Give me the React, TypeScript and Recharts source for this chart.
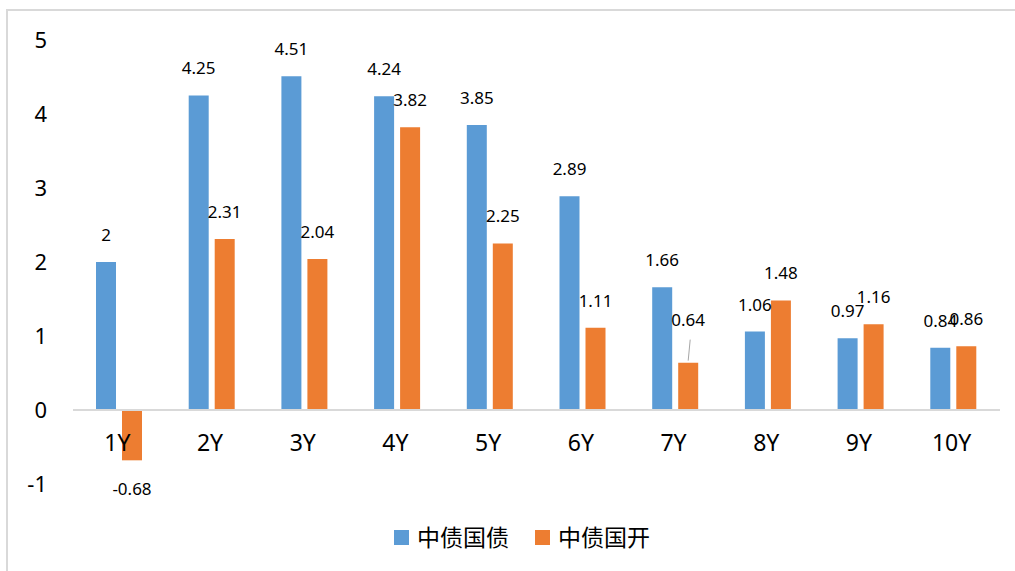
import { BarChart, Bar, XAxis, YAxis, Legend, ReferenceLine, LabelList } from "recharts";

const tenors = ["1Y", "2Y", "3Y", "4Y", "5Y", "6Y", "7Y", "8Y", "9Y", "10Y"];
const govBond = [2, 4.25, 4.51, 4.24, 3.85, 2.89, 1.66, 1.06, 0.97, 0.84];
const cdbBond = [-0.68, 2.31, 2.04, 3.82, 2.25, 1.11, 0.64, 1.48, 1.16, 0.86];
const yTicks = [-1, 0, 1, 2, 3, 4, 5];

const GOV = "中债国债";
const CDB = "中债国开";

const data = tenors.map((t, i) => ({ tenor: t, [GOV]: govBond[i], [CDB]: cdbBond[i] }));

const FONT = "'Noto Sans', 'Noto Sans CJK SC', sans-serif";

// Excel-style data labels; the 7Y orange label sits higher with a leader line
const makeLabel = (series: string) => (props: any) => {
  const vb = props.viewBox || {};
  const x = props.x ?? vb.x;
  const y = props.y ?? vb.y;
  const w = props.width ?? vb.width;
  const h = props.height ?? vb.height;
  const v = Number(props.value);
  const cx = x + w / 2;
  const top = Math.min(y, y + h);
  const bottom = Math.max(y, y + h);
  if (v < 0) {
    return (
      <text x={cx} y={bottom + 29} dy="0.35em" textAnchor="middle" fontSize={17} fill="#000" fontFamily={FONT}>
        {v}
      </text>
    );
  }
  if (series === CDB && props.index === 6) {
    return (
      <g>
        <line x1={cx + 2} y1={top - 23} x2={cx} y2={top - 2} stroke="#a6a6a6" strokeWidth={1} />
        <text x={cx} y={top - 43} dy="0.35em" textAnchor="middle" fontSize={17} fill="#000" fontFamily={FONT}>
          {v}
        </text>
      </g>
    );
  }
  return (
    <text x={cx} y={top - 27} dy="0.35em" textAnchor="middle" fontSize={17} fill="#000" fontFamily={FONT}>
      {v}
    </text>
  );
};

const CategoryTick = (props: any) => (
  <text x={props.x - 2} y={props.y - 41} dy="0.35em" textAnchor="middle" fontSize={23} fill="#000" fontFamily={FONT}>
    {props.payload.value}
  </text>
);

const LegendContent = (props: any) => (
  <div style={{ display: "flex", alignItems: "center", fontFamily: FONT, fontSize: 23, color: "#000" }}>
    {(props.payload || []).map((p: any, i: number) => (
      <div key={i} style={{ display: "flex", alignItems: "center", marginRight: 26 }}>
        <span style={{ width: 15, height: 15, background: p.color, display: "inline-block", marginRight: 8 }} />
        <span style={{ lineHeight: "26px" }}>{p.value}</span>
      </div>
    ))}
  </div>
);

export default function App() {
  return (
    <div style={{ position: "absolute", left: 0, top: 0, width: 1015, height: 571, overflow: "hidden", background: "#fff" }}>
      <div
        style={{
          position: "absolute",
          left: 6,
          top: 9,
          width: 1030,
          height: 600,
          border: "2px solid #d9d9d9",
          boxSizing: "border-box",
        }}
      />
      <div style={{ position: "absolute", left: 0, top: 0 }}>
        <BarChart
          width={1015}
          height={571}
          data={data}
          margin={{ top: 40, right: 15, bottom: 57, left: 20 }}
          barSize={20}
          barGap={6}
          style={{ fontFamily: FONT }}
        >
          <XAxis
            dataKey="tenor"
            axisLine={false}
            tickLine={false}
            tickSize={0}
            tickMargin={0}
            height={30}
            tick={<CategoryTick />}
            interval={0}
          />
          <YAxis
            domain={[-1, 5]}
            ticks={yTicks}
            axisLine={false}
            tickLine={false}
            tickSize={0}
            tickMargin={26}
            width={53}
            tick={{ fontSize: 22, fill: "#000", fontFamily: FONT }}
            interval={0}
          />
          <ReferenceLine y={0} stroke="#d9d9d9" strokeWidth={2} />
          <Legend
            layout="horizontal"
            verticalAlign="middle"
            align="center"
            wrapperStyle={{ top: 524, left: 394, width: "auto" }}
            content={<LegendContent />}
          />
          <Bar dataKey={GOV} fill="#5B9BD5" isAnimationActive={false}>
            <LabelList dataKey={GOV} content={makeLabel(GOV)} />
          </Bar>
          <Bar dataKey={CDB} fill="#ED7D31" isAnimationActive={false}>
            <LabelList dataKey={CDB} content={makeLabel(CDB)} />
          </Bar>
        </BarChart>
      </div>
    </div>
  );
}
